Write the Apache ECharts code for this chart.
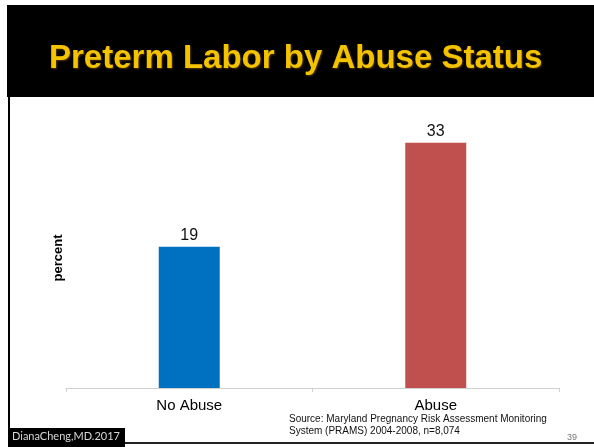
<!DOCTYPE html>
<html>
<head>
<meta charset="utf-8">
<script src="https://cdn.jsdelivr.net/npm/echarts@6/dist/echarts.min.js"></script>
<style>
  html, body { margin: 0; padding: 0; background: #fff; }
  #chart { width: 594px; height: 447px; }
</style>
</head>
<body>
<div id="chart"></div>
<script>
// Preterm labor rate (percent) by abuse status
const categories = ['No Abuse', 'Abuse'];
const preterm = [19, 33];
const barColors = ['#0070C0', '#C0504D'];

const titleText = 'Preterm Labor by Abuse Status';
const sourceLines = [
  'Source: Maryland Pregnancy Risk Assessment Monitoring',
  'System (PRAMS) 2004-2008, n=8,074'
];
const footerCredit = 'DianaCheng,MD.2017';
const pageNumber = '39';

const chart = echarts.init(document.getElementById('chart'), null, { renderer: 'canvas' });

chart.setOption({
  backgroundColor: '#ffffff',
  animation: false,
  title: {
    text: titleText,
    left: 44,
    top: 37,
    textStyle: {
      fontFamily: 'Liberation Sans, Arial, sans-serif',
      fontWeight: 'bold',
      fontSize: 33,
      color: '#F4C300',
      textShadowColor: 'rgba(90,60,0,0.9)',
      textShadowBlur: 2,
      textShadowOffsetX: 1,
      textShadowOffsetY: 1
    },
    z: 10
  },
  grid: { left: 66, right: 35, top: 128, bottom: 59 },
  xAxis: {
    type: 'category',
    data: categories,
    axisLine: { lineStyle: { color: '#d0d0d0', width: 1 } },
    axisTick: { show: true, length: 4, lineStyle: { color: '#d0d0d0' } },
    axisLabel: {
      margin: 10,
      fontFamily: 'Liberation Sans, Arial, sans-serif',
      fontSize: 15,
      color: '#000'
    }
  },
  yAxis: {
    type: 'value',
    min: 0,
    max: 35,
    name: 'percent',
    nameLocation: 'middle',
    nameGap: 1,
    nameRotate: 90,
    nameTextStyle: {
      fontFamily: 'Liberation Sans, Arial, sans-serif',
      fontWeight: 'bold',
      fontSize: 13,
      color: '#000'
    },
    axisLine: { show: false },
    axisTick: { show: false },
    axisLabel: { show: false },
    splitLine: { show: false }
  },
  series: [{
    type: 'bar',
    barWidth: 61,
    data: preterm.map((v, i) => ({ value: v, itemStyle: { color: barColors[i] } })),
    label: {
      show: true,
      position: 'top',
      distance: 3,
      fontFamily: 'Liberation Sans, Arial, sans-serif',
      fontSize: 16,
      color: '#111'
    }
  }],
  graphic: [
    // slide header band
    { type: 'rect', shape: { x: 7, y: 5, width: 587, height: 92 }, style: { fill: '#000' }, z: 0 },
    // left frame line
    { type: 'rect', shape: { x: 8, y: 97, width: 2, height: 332 }, style: { fill: '#000' } },
    // bottom frame line
    { type: 'rect', shape: { x: 125, y: 442, width: 469, height: 2 }, style: { fill: '#222' } },
    // credit tab
    { type: 'rect', shape: { x: 8, y: 428, width: 117, height: 19 }, style: { fill: '#000' } },
    {
      type: 'text', left: 12, top: 431,
      style: { text: footerCredit, fill: '#d8d8d8', font: '11px Lato, "Open Sans", sans-serif' }
    },
    {
      type: 'text', left: 289, top: 413,
      style: {
        text: sourceLines.join('\n'),
        fill: '#111',
        font: '10px "Liberation Sans", Arial, sans-serif',
        lineHeight: 12
      }
    },
    {
      type: 'text', left: 567, top: 433,
      style: { text: pageNumber, fill: '#777', font: '9px "Liberation Sans", Arial, sans-serif' }
    }
  ]
});
</script>
</body>
</html>
